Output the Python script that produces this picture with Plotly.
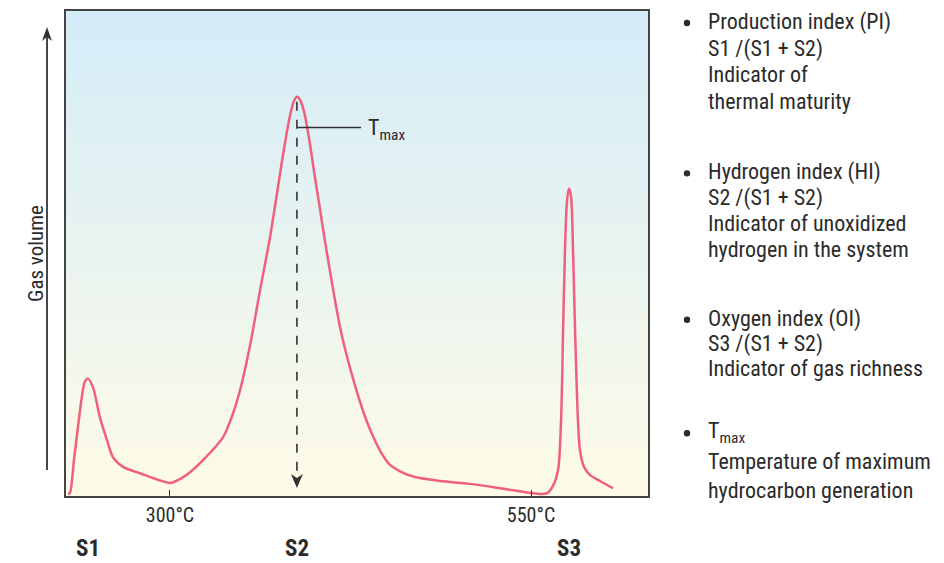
import plotly.graph_objects as go

# ---------------- data ----------------
temperature_c = [229.4, 230.7, 233.5, 236.3, 239.1, 241.1, 243.2, 246.7, 251.5, 256.4, 260.5,
                 267.5, 279.2, 300.0, 306.9, 313.9, 324.2, 336.7, 342.9, 348.5, 355.4, 362.3,
                 369.3, 374.8, 378.9, 383.1, 385.9, 387.9, 390.0, 392.8, 396.3, 400.4, 403.9,
                 407.3, 412.9, 417.7, 422.6, 429.5, 435.0, 440.6, 446.1, 452.4, 459.3, 469.7,
                 487.0, 507.8, 528.5, 550.0, 556.2, 561.1, 565.2, 568.7, 570.8, 572.2, 573.5,
                 574.9, 576.3, 577.7, 579.1, 580.5, 582.5, 583.9, 586.7, 590.9, 597.8, 606.8]
gas_volume = [0.4, 0.6, 7.4, 14.2, 20.7, 23.6, 24.2, 22.4, 16.2, 11.5, 8.0,
              6.0, 4.7, 2.7, 3.5, 4.9, 7.8, 12.1, 16.4, 21.8, 31.0, 42.3,
              53.4, 63.7, 71.5, 78.4, 81.5, 82.3, 81.7, 79.3, 73.7, 65.7, 59.1,
              52.6, 42.7, 34.9, 28.7, 21.4, 16.4, 12.3, 9.0, 6.4, 5.1, 3.9,
              3.1, 2.5, 1.6, 0.6, 0.4, 0.6, 2.1, 5.3, 15.6, 34.1, 50.5,
              60.8, 63.4, 61.8, 50.5, 34.1, 15.6, 9.4, 6.0, 4.3, 3.1, 1.6]
tick_values = [300, 550]
tick_labels = ["300°C", "550°C"]
peak_names = ["S1", "S2", "S3"]
peak_temps = [243.2, 387.9, 576.3]
tmax_temp = 387.9
tmax_top = 81.3

info_blocks = [
    ["Production index (PI)", "S1 /(S1 + S2)", "Indicator of", "thermal maturity"],
    ["Hydrogen index (HI)", "S2 /(S1 + S2)", "Indicator of unoxidized", "hydrogen in the system"],
    ["Oxygen index (OI)", "S3 /(S1 + S2)", "Indicator of gas richness"],
    ["T<sub>max</sub>", "Temperature of maximum", "hydrocarbon generation"],
]

# ---------------- layout geometry ----------------
W, H = 944, 563
L, R, T, B = 66, 648, 9, 496
X_RANGE = [228.0, 631.0]
Y_RANGE = [0, 100]

def px_x(p):
    return (p - L) / (R - L)

def px_y(p):
    return 1 - (p - T) / (B - T)

def y_data(p):
    return Y_RANGE[0] + (B - p) / (B - T) * (Y_RANGE[1] - Y_RANGE[0])

FONT = "Liberation Sans Narrow, Arial Narrow, Roboto Condensed, Liberation Sans, sans-serif"
TXT = "#2b2b2b"
DARK = "#333333"

fig = go.Figure()

# gradient background bands
n = 80
top_c = (212, 236, 248)
bot_c = (254, 251, 231)
shapes = []
for i in range(n):
    f = i / (n - 1)
    c = tuple(round(bot_c[k] + (top_c[k] - bot_c[k]) * f) for k in range(3))
    shapes.append(dict(type="rect", xref="paper", yref="paper", x0=0, x1=1,
                       y0=i / n, y1=(i + 1) / n + 0.002, line=dict(width=0),
                       fillcolor="rgb(%d,%d,%d)" % c, layer="below"))

# Tmax dashed line and leader
shapes.append(dict(type="line", xref="x", yref="y", x0=tmax_temp, x1=tmax_temp,
                   y0=tmax_top, y1=y_data(478), line=dict(color=DARK, width=1.6, dash="dash")))
shapes.append(dict(type="line", xref="x", yref="y", x0=tmax_temp, x1=432.3,
                   y0=y_data(126), y1=y_data(126), line=dict(color=DARK, width=1.4)))
# barbed arrowhead on dashed line
shapes.append(dict(type="path", xref="x", yref="y", xsizemode="pixel", ysizemode="pixel",
                   xanchor=tmax_temp, yanchor=y_data(488),
                   path="M 0,0 L -6,14 L 0,10 L 6,14 Z", fillcolor=DARK, line=dict(width=0)))

# vertical Gas volume arrow
shapes.append(dict(type="line", xref="paper", yref="paper", x0=px_x(47), x1=px_x(47),
                   y0=px_y(470), y1=px_y(34), line=dict(color=DARK, width=1.8)))
shapes.append(dict(type="path", xref="paper", yref="paper", xsizemode="pixel", ysizemode="pixel",
                   xanchor=px_x(47), yanchor=px_y(25),
                   path="M -5,-14 L 0,-10 L 5,-14 L 0,0 Z", fillcolor=DARK, line=dict(width=0)))

fig.add_trace(go.Scatter(x=temperature_c, y=gas_volume, mode="lines",
                         line=dict(color="#f0607e", width=2.5, shape="spline", smoothing=0.8),
                         hoverinfo="skip", showlegend=False))

annotations = []
annotations.append(dict(x=435.8, y=y_data(128), xref="x", yref="y", text="T<sub>max</sub>",
                        showarrow=False, xanchor="left", yanchor="middle",
                        font=dict(family=FONT, size=22, color=TXT)))

annotations.append(dict(x=px_x(22), y=px_y(253), xref="paper", yref="paper",
                        text="Gas volume", textangle=-90, showarrow=False,
                        font=dict(family=FONT, size=21, color=TXT)))

# S labels
for name, t in zip(peak_names, peak_temps):
    annotations.append(dict(x=t, y=px_y(549), xref="x", yref="paper", text="<b>%s</b>" % name,
                            showarrow=False, xanchor="center", yanchor="middle",
                            font=dict(family=FONT, size=23, color=TXT)))

# right info blocks
block_lines_y = [
    [20, 47, 73, 100],
    [171, 197, 222, 248],
    [318, 343, 368],
    [432, 461, 490],
]
for lines, ys in zip(info_blocks, block_lines_y):
    bx, by = 687, ys[0] + 1
    shapes.append(dict(type="circle", xref="paper", yref="paper", xsizemode="pixel",
                       ysizemode="pixel", xanchor=px_x(bx), yanchor=px_y(by),
                       x0=-3.2, x1=3.2, y0=-3.2, y1=3.2, fillcolor=TXT, line=dict(width=0)))
    for txt, yy in zip(lines, ys):
        annotations.append(dict(x=px_x(706), y=px_y(yy), xref="paper", yref="paper",
                                text=txt, showarrow=False, xanchor="left", yanchor="middle",
                                font=dict(family=FONT, size=22, color=TXT)))

fig.update_layout(
    width=W, height=H,
    margin=dict(l=L, r=W - R, t=T, b=H - B),
    paper_bgcolor="white", plot_bgcolor="white",
    shapes=shapes, annotations=annotations,
    xaxis=dict(range=X_RANGE, tickvals=tick_values, ticktext=tick_labels,
               ticks="inside", ticklen=6, tickwidth=1.3, tickcolor=DARK,
               showline=True, linecolor="#444444", linewidth=1.6, mirror=True,
               showgrid=False, zeroline=False, fixedrange=True,
               tickfont=dict(family=FONT, size=20, color=TXT)),
    yaxis=dict(range=Y_RANGE, showticklabels=False, ticks="",
               showline=True, linecolor="#444444", linewidth=1.6, mirror=True,
               showgrid=False, zeroline=False, fixedrange=True),
)

fig.write_html("out.html")
